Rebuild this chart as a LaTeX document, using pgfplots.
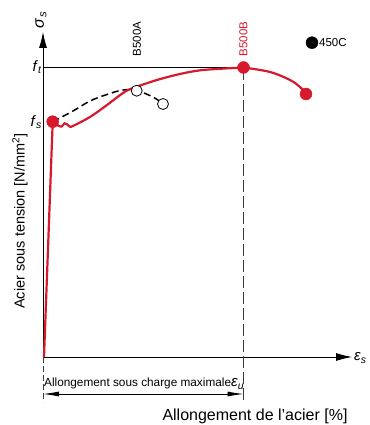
\documentclass[border=0pt]{standalone}
\usepackage{pgfplots}
\pgfplotsset{compat=1.18}
\usepackage{fontspec}
\setmainfont{Liberation Sans}
\usetikzlibrary{arrows.meta}
\definecolor{myred}{RGB}{215,24,45}
\definecolor{dgray}{RGB}{60,60,60}
\begin{document}
\begin{tikzpicture}
\useasboundingbox (0,0) rectangle (369pt,425pt);
\begin{axis}[
  at={(43pt,68pt)}, anchor=south west,
  scale only axis, width=309pt, height=325pt,
  xmin=0, xmax=309, ymin=0, ymax=325,
  axis lines=left,
  axis line style={line width=0.8pt, black, -{Latex[length=16pt,width=8pt]}},
  xtick=\empty,
  ytick={235,289.5},
  yticklabels={\textit{f}\textsubscript{\textit{s}}, \textit{f}\textsubscript{\textit{t}}},
  yticklabel style={font=\fontsize{15}{15}\selectfont, inner sep=1pt},
  major tick length=0pt,
  clip=false,
]
% f_t line
\draw[line width=0.8pt] (axis cs:0,289.5) -- (axis cs:200.5,289.5);
% vertical dashed lines
\draw[dgray, line width=0.9pt, dash pattern=on 12pt off 4pt] (axis cs:200.5,289) -- (axis cs:200.5,-45);
\draw[dgray, line width=0.8pt, dash pattern=on 6pt off 3pt] (axis cs:0,0) -- (axis cs:0,-45);
% dimension arrow
\draw[line width=0.8pt, {Latex[length=16pt,width=5pt]}-{Latex[length=16pt,width=5pt]}] (axis cs:0,-37) -- (axis cs:200.5,-37);
% B500A dashed
\addplot[black, line width=1.5pt, dash pattern=on 7pt off 4pt, smooth, tension=0.6] coordinates {
 (9.7,235.3) (30,246) (47,256) (64,262.5) (80,267) (93.7,266.3) (110,260) (120,253)
};
% red elastic
\addplot[myred, line width=2.2pt] coordinates {(1,0) (9.7,235.3)};
% red hardening
\addplot[myred, line width=2.2pt, smooth, tension=0.5] coordinates {
 (9.7,235.3) (15.3,231.3) (18.7,230.5) (21.5,233.7) (24,232.7) (27,230.3) (31,231.5) (47,240) (64,252) (80,264) (90,269) (114,277) (137,283) (160,287) (200.5,289.5)
};
\addplot[myred, line width=2.2pt, smooth, tension=0.6] coordinates {
 (200.5,289.5) (227,285) (247,277) (257,270) (263,263)
};
% open circles
\addplot[only marks, mark=*, mark size=5.5pt, mark options={draw=black, fill=white, line width=0.8pt}] coordinates {(93.7,266.3) (120,253)};
% red dots
\addplot[only marks, mark=*, mark size=6pt, myred] coordinates {(9.7,235.3) (200.5,289.5) (263,263)};
% 450C dot
\addplot[only marks, mark=*, mark size=6pt, black] coordinates {(269,314.3)};
% texts
\node[anchor=west, font=\fontsize{11.5}{11.5}\selectfont, inner sep=0pt] at (axis cs:276,314.3) {450C};
\node[rotate=90, font=\fontsize{11.5}{11.5}\selectfont, inner sep=0pt] at (axis cs:94,318) {B500A};
\node[rotate=90, font=\fontsize{11.5}{11.5}\selectfont, inner sep=0pt, text=myred] at (axis cs:200.5,318) {B500B};
\node[rotate=90, font=\fontsize{16}{16}\selectfont, inner sep=0pt] at (axis cs:-2,337) {\textit{σ}\textsubscript{\textit{s}}};
\node[anchor=west, font=\fontsize{15}{15}\selectfont, inner sep=0pt] at (axis cs:311,-1) {\textit{ε}\textsubscript{\textit{s}}};
\node[anchor=base west, font=\fontsize{11.8}{11.8}\selectfont, inner sep=0pt] at (axis cs:1,-30) {Allongement sous charge maximale{\fontsize{15}{15}\selectfont\textit{ε}\textsubscript{\textit{u}}}};
\node[font=\fontsize{16}{16}\selectfont, inner sep=0pt] at (axis cs:212,-59) {Allongement de l’acier [\%]};
\node[rotate=90, font=\fontsize{14.5}{14.5}\selectfont, inner sep=0pt] at (axis cs:-23,136) {Acier sous tension [N/mm\textsuperscript{2}]};
\end{axis}
\end{tikzpicture}
\end{document}
